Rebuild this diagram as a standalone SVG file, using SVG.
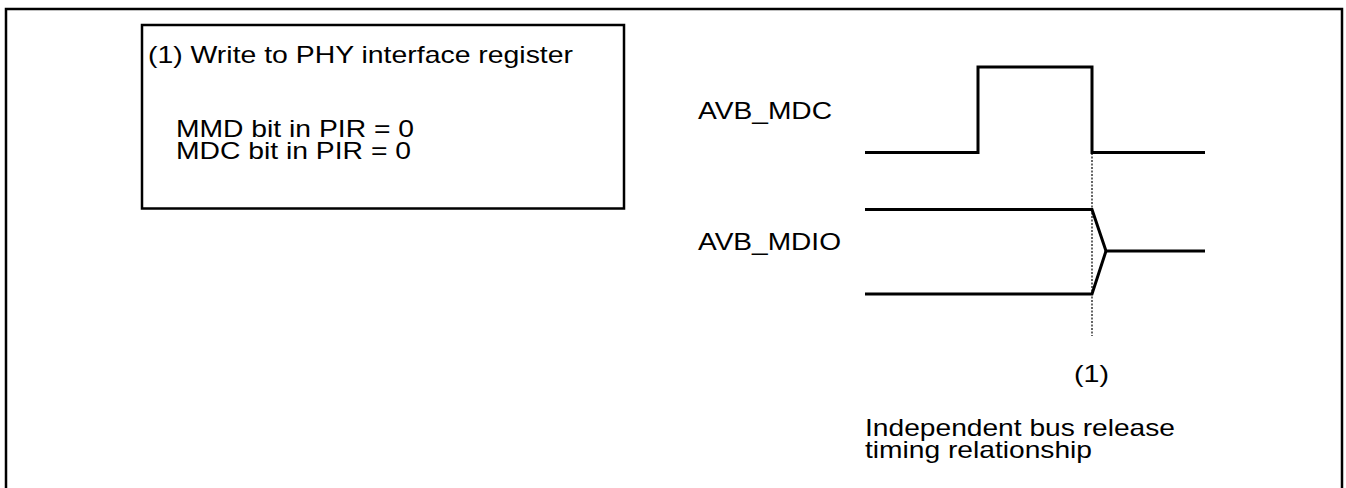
<svg xmlns="http://www.w3.org/2000/svg" width="1346" height="488" viewBox="0 0 1346 488">
<style>
text{font-family:"Liberation Sans",Arial,sans-serif;font-size:24px;fill:#000}
.frame{fill:none;stroke:#000;stroke-width:2.5}
.wave{fill:none;stroke:#000;stroke-width:3;stroke-linejoin:miter}
.dot{fill:none;stroke:#000;stroke-width:1.2;stroke-dasharray:2 1.5}
</style>
<rect width="1346" height="488" fill="#fff"/>
<g id="outer-frame"><path class="frame" d="M6,490 V9 H1342 V490"/></g>
<g id="node-step1">
<rect class="frame" x="142" y="25" width="482" height="183.5"/>
<text x="148" y="63" textLength="425" lengthAdjust="spacingAndGlyphs">(1) Write to PHY interface register</text>
<text x="176" y="137" textLength="238" lengthAdjust="spacingAndGlyphs">MMD bit in PIR = 0</text>
<text x="176" y="159" textLength="235" lengthAdjust="spacingAndGlyphs">MDC bit in PIR = 0</text>
</g>
<g id="node-mdc">
<text x="698" y="119" textLength="134" lengthAdjust="spacingAndGlyphs">AVB_MDC</text>
<path class="wave" d="M865,152.5 H978 V67 H1092 V152.5 H1205"/>
</g>
<g id="node-mdio">
<text x="698" y="250" textLength="143" lengthAdjust="spacingAndGlyphs">AVB_MDIO</text>
<path class="wave" d="M865,209.5 H1092 L1106,251 H1205"/>
<path class="wave" d="M865,294 H1092 L1106,251"/>
</g>
<g id="connectors">
<path class="dot" d="M1092,153 V336"/>
</g>
<g id="labels">
<text x="1074" y="382" textLength="35" lengthAdjust="spacingAndGlyphs">(1)</text>
<text x="865" y="436" textLength="310" lengthAdjust="spacingAndGlyphs">Independent bus release</text>
<text x="865" y="458" textLength="227" lengthAdjust="spacingAndGlyphs">timing relationship</text>
</g>
</svg>
